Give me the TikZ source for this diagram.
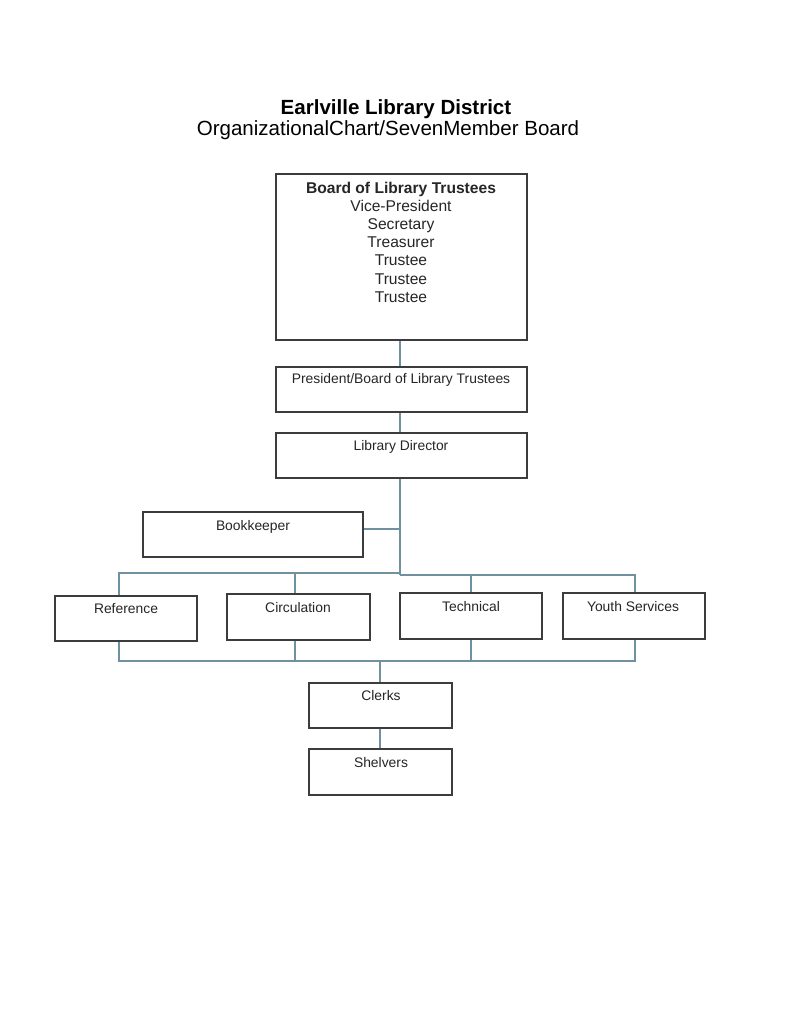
\documentclass[tikz,border=0pt]{standalone}
\usepackage{fontspec}
\setmainfont{Liberation Sans}
\usetikzlibrary{fit}
\definecolor{conn}{RGB}{112,146,160}
\definecolor{boxline}{RGB}{60,60,60}
\begin{document}
\begin{tikzpicture}[x=0.75pt,y=-0.75pt,
  box/.style={draw=boxline,line width=0.95pt,inner sep=0pt,rectangle},
  lbl/.style={inner sep=0pt,anchor=base,font=\fontsize{10.4}{12}\selectfont,text=black!85},
  wire/.style={draw=conn,line width=0.8pt}]
\useasboundingbox (0,0) rectangle (791,1024);
\fill[white] (0,0) rectangle (791,1024);
% titles
\node[inner sep=0pt,anchor=base,align=center,font=\fontsize{15.4}{13.5}\selectfont] (title) at (388,135)
  {\hspace*{12pt}\textbf{Earlville Library District}\\OrganizationalChart/SevenMember Board};
% boxes
\node[box,fit={(276,174) (527,340)}] (board) {};
\node[box,fit={(276,367) (527,412)}] (pres) {};
\node[box,fit={(276,433) (527,478)}] (dir) {};
\node[box,fit={(143,512) (363,557)}] (book) {};
\node[box,fit={(55,596) (197,641)}] (ref) {};
\node[box,fit={(227,594) (370,640)}] (circ) {};
\node[box,fit={(400,593) (542,639)}] (tech) {};
\node[box,fit={(563,593) (705,639)}] (youth) {};
\node[box,fit={(309,683) (452,728)}] (clerks) {};
\node[box,fit={(309,749) (452,795)}] (shelv) {};
% texts
\node[inner sep=0pt,anchor=north,align=center,font=\fontsize{11.7}{13.65}\selectfont,text=black!85] (boardtxt) at (401,181.5)
  {\textbf{Board of Library Trustees}\\Vice-President\\Secretary\\Treasurer\\Trustee\\Trustee\\Trustee};
\node[lbl] (prestxt) at (401,383) {President/Board of Library Trustees};
\node[lbl] (dirtxt) at (401,450) {Library Director};
\node[lbl] (booktxt) at (253,530) {Bookkeeper};
\node[lbl] (reftxt) at (126,613) {Reference};
\node[lbl] (circtxt) at (298,612) {Circulation};
\node[lbl] (techtxt) at (471,611) {Technical};
\node[lbl] (youthtxt) at (633,611) {Youth Services};
\node[lbl] (clerkstxt) at (381,700) {Clerks};
\node[lbl] (shelvtxt) at (381,767) {Shelvers};
% connector coordinates
\coordinate (trunk) at (400,575);
\coordinate (bookj) at (399,529);
\coordinate (busL) at (119,573);
\coordinate (busR) at (635,575);
\coordinate (lowbus) at (119,661);
\coordinate (lowR) at (635,661);
\coordinate (clerkj) at (380,661);
% connectors
\draw[wire] (board.south -| trunk) -- (pres.north -| trunk);
\draw[wire] (pres.south -| trunk) -- (dir.north -| trunk);
\draw[wire] (dir.south -| trunk) -- (trunk);
\draw[wire] (book.east |- bookj) -- (bookj);
\draw[wire] (399,573) -- (busL) -- (ref.north -| busL);
\draw[wire] (trunk) -- (busR) -- (youth.north -| busR);
\draw[wire] (circ.north -| 295,0) -- (295,573);
\draw[wire] (tech.north -| 471,0) -- (471,575);
\draw[wire] (ref.south -| lowbus) -- (lowbus) -- (lowR) -- (youth.south -| lowR);
\draw[wire] (circ.south -| 295,0) -- (295,661);
\draw[wire] (tech.south -| 471,0) -- (471,661);
\draw[wire] (clerkj) -- (clerks.north -| clerkj);
\draw[wire] (clerks.south -| clerkj) -- (shelv.north -| clerkj);
\end{tikzpicture}
\end{document}
